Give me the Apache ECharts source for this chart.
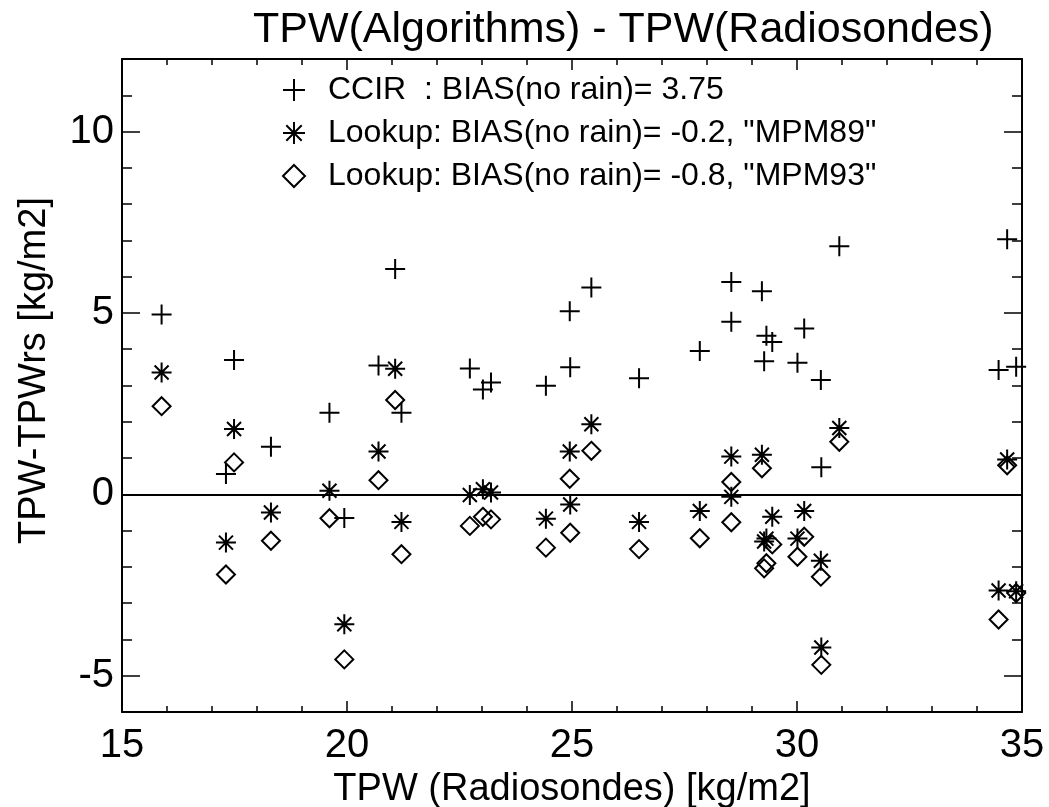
<!DOCTYPE html>
<html><head><meta charset="utf-8">
<script src="https://cdn.jsdelivr.net/npm/echarts@6/dist/echarts.min.js"></script>
<style>html,body{margin:0;padding:0;background:#fff}#c{width:1049px;height:807px}</style>
</head><body><div id="c"></div>
<script>
// TPW from radiosondes (x) and algorithm minus radiosonde differences (y)
const tpwRadiosonde = [15.88, 17.49, 17.31, 18.31, 19.61, 19.94, 20.70, 21.07, 21.21, 22.73, 23.02, 23.20, 24.42, 24.95, 24.96, 25.43, 26.49, 27.84, 28.54, 28.54, 29.22, 29.32, 29.27, 29.45, 30.16, 30.01, 30.53, 30.54, 30.94, 34.67, 34.48, 34.87];
const diffCCIR  = [4.96, 3.70, 0.56, 1.31, 2.25, -0.65, 3.55, 6.21, 2.25, 3.47, 2.89, 3.08, 2.99, 5.05, 3.50, 5.70, 3.20, 3.95, 5.85, 4.76, 5.60, 4.37, 3.67, 4.20, 4.57, 3.63, 3.15, 0.75, 6.84, 7.03, 3.43, 3.52];
const diffMPM89 = [3.36, 1.80, -1.33, -0.50, 0.10, -3.58, 1.18, 3.46, -0.76, -0.02, 0.14, 0.05, -0.67, 1.18, -0.28, 1.93, -0.76, -0.46, 1.04, -0.07, 1.09, -1.22, -1.30, -0.62, -0.46, -1.22, -1.83, -4.22, 1.83, 0.96, -2.65, -2.67];
const diffMPM93 = [2.43, 0.88, -2.21, -1.28, -0.66, -4.55, 0.39, 2.60, -1.65, -0.87, -0.62, -0.69, -1.47, 0.43, -1.06, 1.20, -1.51, -1.21, 0.34, -0.77, 0.72, -1.90, -2.04, -1.38, -1.17, -1.72, -2.27, -4.70, 1.45, 0.80, -3.45, -2.72];

const seriesNames = ['CCIR  : BIAS(no rain)= 3.75', 'Lookup: BIAS(no rain)= -0.2, "MPM89"', 'Lookup: BIAS(no rain)= -0.8, "MPM93"'];
const yMajorTicks = [-5, 0, 5, 10];
const xRange = [15, 35];
const yRange = [-6, 12];

const FONT = 'Liberation Sans, Arial, Helvetica, sans-serif';
const pts = (ys) => tpwRadiosonde.map((x, i) => [x, ys[i]]);

const PLUS = 'path://M0,10L20,10M10,0L10,20';
const STAR = 'path://M0,10L20,10M10,0L10,20M3,3L17,17M17,3L3,17';

const lineBlack = { color: '#000', width: 2 };
function xAx(pos, labels) {
  return {
    type: 'value', position: pos, min: xRange[0], max: xRange[1], interval: 5,
    axisLine: { show: true, onZero: false, lineStyle: lineBlack },
    axisTick: { inside: true, length: 11, lineStyle: { color: '#000', width: 1.5 } },
    minorTick: { show: true, splitNumber: 5, length: 6, lineStyle: { color: '#000', width: 1.5 } },
    axisLabel: { show: labels, fontSize: 40, color: '#000', fontFamily: FONT, margin: 14 },
    splitLine: { show: false },
    name: labels ? 'TPW (Radiosondes) [kg/m2]' : '',
    nameLocation: 'middle', nameGap: 57,
    nameTextStyle: { fontSize: 38, color: '#000', fontFamily: FONT }
  };
}
function yMajor(pos, labels) {
  return {
    type: 'value', position: pos, min: yRange[0], max: yRange[1], interval: 1,
    axisLine: { show: true, onZero: false, lineStyle: lineBlack },
    axisTick: { inside: true, length: 18, customValues: yMajorTicks, lineStyle: { color: '#000', width: 1.5 } },
    axisLabel: { show: labels, customValues: yMajorTicks, fontSize: 40, color: '#000', fontFamily: FONT, margin: 8 },
    splitLine: { show: false },
    name: labels ? 'TPW-TPWrs [kg/m2]' : '',
    nameLocation: 'middle', nameGap: 68, nameRotate: 90,
    nameTextStyle: { fontSize: 38, color: '#000', fontFamily: FONT, padding: [0, 0, 0, 30] }
  };
}
function yMinor(pos) {
  return {
    type: 'value', position: pos, min: yRange[0], max: yRange[1], interval: 1,
    axisLine: { show: false },
    axisTick: { inside: true, length: 10, lineStyle: { color: '#000', width: 1.5 } },
    axisLabel: { show: false }, splitLine: { show: false }
  };
}

const chart = echarts.init(document.getElementById('c'), null, { renderer: 'canvas' });
chart.setOption({
  backgroundColor: '#fff',
  animation: false,
  title: {
    text: 'TPW(Algorithms) - TPW(Radiosondes)', left: 248, top: 4,
    textStyle: { fontSize: 43, fontWeight: 'normal', color: '#000', fontFamily: FONT }
  },
  legend: {
    orient: 'vertical', left: 277, top: 68, itemGap: 9,
    itemWidth: 22, itemHeight: 22,
    textStyle: { fontSize: 32, color: '#000', fontFamily: FONT, padding: [0, 0, 0, 18], lineHeight: 34 },
    data: seriesNames
  },
  grid: { left: 122, right: 27, top: 59, bottom: 95, containLabel: false, outerBoundsMode: 'none' },
  xAxis: [xAx('bottom', true), xAx('top', false)],
  yAxis: [yMajor('left', true), yMinor('left'), yMajor('right', false), yMinor('right')],
  series: [
    {
      name: seriesNames[0], type: 'scatter', xAxisIndex: 0, yAxisIndex: 0,
      symbol: PLUS, symbolSize: 20, data: pts(diffCCIR),
      itemStyle: { color: 'rgba(0,0,0,0)', borderColor: '#000', borderWidth: 2, opacity: 1 },
      markLine: {
        silent: true, symbol: 'none', label: { show: false },
        lineStyle: { color: '#000', width: 2, type: 'solid' },
        data: [{ yAxis: 0 }]
      }
    },
    {
      name: seriesNames[1], type: 'scatter', xAxisIndex: 0, yAxisIndex: 0,
      symbol: STAR, symbolSize: 20, data: pts(diffMPM89),
      itemStyle: { color: 'rgba(0,0,0,0)', borderColor: '#000', borderWidth: 2, opacity: 1 }
    },
    {
      name: seriesNames[2], type: 'scatter', xAxisIndex: 0, yAxisIndex: 0,
      symbol: 'diamond', symbolSize: 18, data: pts(diffMPM93),
      itemStyle: { color: 'rgba(0,0,0,0)', borderColor: '#000', borderWidth: 2, opacity: 1 }
    }
  ]
});
</script></body></html>
